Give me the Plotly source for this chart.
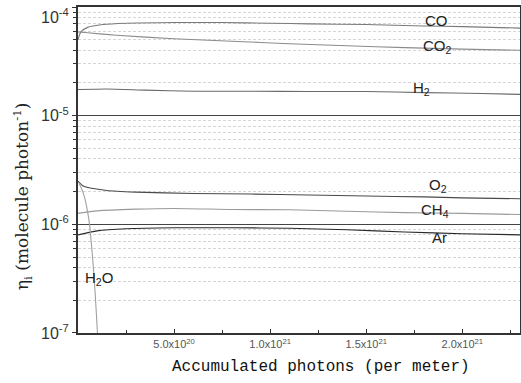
import math
import plotly.graph_objects as go

# x values in photons per meter
co_x = [0, 0.015e21, 0.05e21, 0.13e21, 0.25e21, 0.5e21, 0.75e21, 1.0e21, 1.2e21, 1.5e21, 1.8e21, 2.0e21, 2.3e21]
co_y = [5.0e-5, 5.9e-5, 6.5e-5, 6.9e-5, 7.1e-5, 7.2e-5, 7.2e-5, 7.1e-5, 7.0e-5, 6.9e-5, 6.7e-5, 6.6e-5, 6.4e-5]

co2_x = [0, 0.05e21, 0.2e21, 0.5e21, 0.8e21, 1.1e21, 1.4e21, 1.7e21, 2.0e21, 2.3e21]
co2_y = [5.9e-5, 5.8e-5, 5.5e-5, 5.1e-5, 4.85e-5, 4.6e-5, 4.4e-5, 4.23e-5, 4.1e-5, 4.0e-5]

h2_x = [0, 0.15e21, 0.35e21, 0.6e21, 0.9e21, 1.2e21, 1.5e21, 1.8e21, 2.1e21, 2.3e21]
h2_y = [1.74e-5, 1.76e-5, 1.72e-5, 1.68e-5, 1.68e-5, 1.67e-5, 1.67e-5, 1.63e-5, 1.6e-5, 1.57e-5]

o2_x = [0, 0.03e21, 0.15e21, 0.3e21, 0.6e21, 0.9e21, 1.2e21, 1.5e21, 1.8e21, 2.0e21, 2.3e21]
o2_y = [2.5e-6, 2.24e-6, 2.05e-6, 1.98e-6, 1.92e-6, 1.9e-6, 1.86e-6, 1.82e-6, 1.79e-6, 1.75e-6, 1.72e-6]

ch4_x = [0, 0.1e21, 0.3e21, 0.5e21, 0.8e21, 1.1e21, 1.4e21, 1.7e21, 2.0e21, 2.3e21]
ch4_y = [1.26e-6, 1.33e-6, 1.38e-6, 1.4e-6, 1.37e-6, 1.36e-6, 1.32e-6, 1.28e-6, 1.26e-6, 1.23e-6]

ar_x = [0, 0.1e21, 0.25e21, 0.5e21, 0.8e21, 1.1e21, 1.4e21, 1.7e21, 2.0e21, 2.3e21]
ar_y = [0.8e-6, 0.87e-6, 0.91e-6, 0.93e-6, 0.93e-6, 0.92e-6, 0.89e-6, 0.85e-6, 0.82e-6, 0.8e-6]

h2o_x = [0.005e21, 0.02e21, 0.035e21, 0.05e21, 0.06e21, 0.07e21, 0.08e21, 0.09e21, 0.1e21, 0.11e21]
h2o_y = [2.4e-6, 2.1e-6, 1.75e-6, 1.3e-6, 1.0e-6, 6.5e-7, 4.0e-7, 2.2e-7, 1.1e-7, 5e-8]

series = [
    ("CO", co_x, co_y, "#7a7a7a"),
    ("CO2", co2_x, co2_y, "#8c8c8c"),
    ("H2", h2_x, h2_y, "#6a6a6a"),
    ("O2", o2_x, o2_y, "#4a4a4a"),
    ("CH4", ch4_x, ch4_y, "#9a9a9a"),
    ("Ar", ar_x, ar_y, "#2a2a2a"),
    ("H2O", h2o_x, h2o_y, "#a0a0a0"),
]

labels = ["CO", "CO<sub>2</sub>", "H<sub>2</sub>", "O<sub>2</sub>", "CH<sub>4</sub>", "Ar", "H<sub>2</sub>O"]
label_x = [1.866e21, 1.87e21, 1.79e21, 1.875e21, 1.86e21, 1.881e21, 0.11e21]
label_y = [7.6e-5, 4.3e-5, 1.77e-5, 2.3e-6, 1.35e-6, 7.55e-7, 3.2e-7]

x_tickvals = [0.5e21, 1.0e21, 1.5e21, 2.0e21]
x_ticktext = ["5.0x10<sup>20</sup>", "1.0x10<sup>21</sup>", "1.5x10<sup>21</sup>", "2.0x10<sup>21</sup>"]
y_tickvals = [1e-4, 1e-5, 1e-6, 1e-7]
y_ticktext = ["<br>10<sup>-4</sup>", "10<sup>-5</sup>", "10<sup>-6</sup>", "10<sup>-7</sup>"]

fig = go.Figure()
for name, xs, ys, col in series:
    fig.add_trace(go.Scatter(x=xs, y=ys, mode="lines", name=name,
                             line=dict(color=col, width=1.1, shape="spline", smoothing=0.6),
                             showlegend=False, cliponaxis=True))

for t, lx, ly in zip(labels, label_x, label_y):
    fig.add_annotation(x=lx, y=math.log10(ly), xref="x", yref="y", text=t,
                       showarrow=False, font=dict(family="Arial, Liberation Sans", size=15, color="#222"))

fig.add_annotation(x=0.5, y=-0.07, xref="paper", yref="paper", yanchor="top",
                   text="Accumulated photons (per meter)", showarrow=False, xshift=22,
                   font=dict(family="Liberation Mono", size=16, color="#111"))

fig.add_annotation(x=0, y=0.42, xref="paper", yref="paper", xshift=-56,
                   xanchor="center", yanchor="middle",
                   text="η<sub>i</sub> (molecule photon<sup>-1</sup>)", textangle=-90,
                   showarrow=False,
                   font=dict(family="DejaVu Serif", size=17, color="#222"))

fig.update_layout(
    width=521, height=383,
    margin=dict(l=78, r=1, t=7, b=50),
    plot_bgcolor="white", paper_bgcolor="white",
)
fig.update_xaxes(
    range=[0, 2.3e21], tickvals=x_tickvals, ticktext=x_ticktext, automargin=False,
    ticks="inside", ticklen=4, tickcolor="#333",
    tickfont=dict(family="Arial, Liberation Sans", size=11, color="#555"),
    showgrid=False, zeroline=False,
    showline=True, linecolor="#333", linewidth=2, mirror=True,
    minor=dict(tick0=0, dtick=0.25e21, ticks="inside", ticklen=3, tickcolor="#333"),
)
fig.update_yaxes(
    type="log", range=[-7.0005, -3.9995], tickvals=y_tickvals, ticktext=y_ticktext, automargin=False,
    ticklabeloverflow="allow",
    ticks="outside", ticklen=4, tickcolor="#333",
    tickfont=dict(family="Arial, Liberation Sans", size=16, color="#333"),
    showgrid=True, gridcolor="#444", gridwidth=1.2,
    zeroline=False,
    showline=True, linecolor="#333", linewidth=2, mirror=True,
    minor=dict(dtick="D1", ticks="outside", ticklen=3, tickcolor="#333",
               showgrid=True, gridcolor="#d6d6d6", griddash="3px,2px", gridwidth=1),
)

fig.write_html("out.html", post_script="document.body.style.margin='0';",
               config={"displayModeBar": False})
